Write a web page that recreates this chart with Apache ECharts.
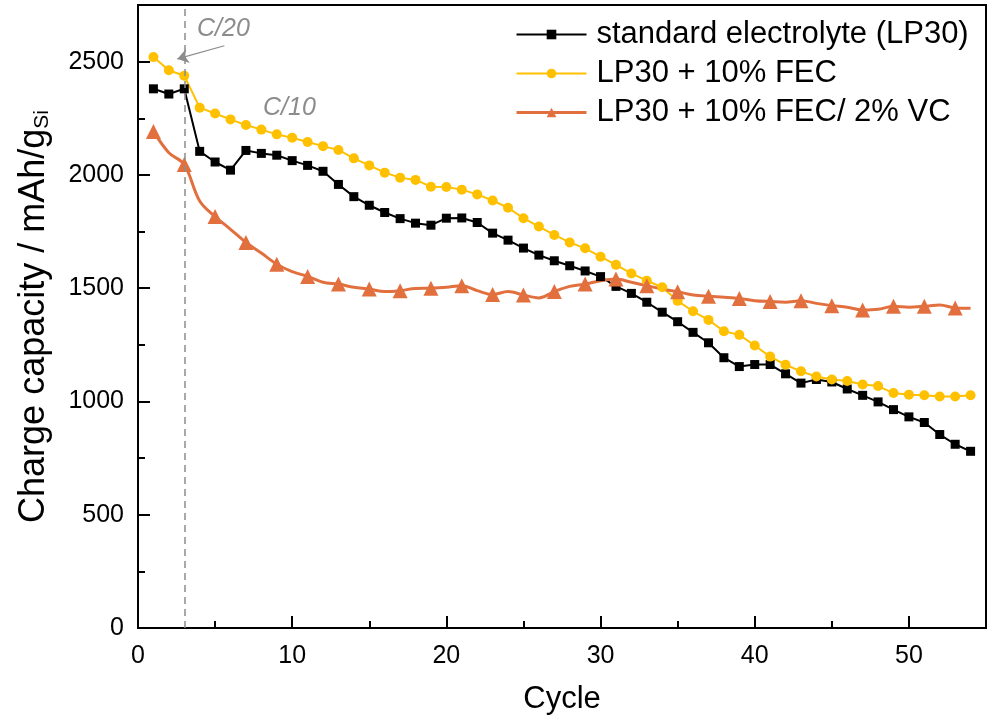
<!DOCTYPE html>
<html>
<head>
<meta charset="utf-8">
<script src="https://cdn.jsdelivr.net/npm/echarts@6/dist/echarts.min.js"></script>
<style>
  html, body { margin: 0; padding: 0; background: #fff; }
  #chart { width: 992px; height: 720px; }
</style>
</head>
<body>
<div id="chart"></div>
<script>
// cycle numbers 1..54
var cycles = [];
for (var i = 1; i <= 54; i++) cycles.push(i);

// standard electrolyte (LP30), mAh/g
var standardLP30 = [
  2380, 2357, 2380, 2104, 2057, 2021, 2108, 2095, 2087, 2063,
  2042, 2016, 1958, 1904, 1866, 1834, 1807, 1787, 1778, 1809,
  1810, 1790, 1743, 1712, 1677, 1646, 1621, 1599, 1576, 1551,
  1508, 1477, 1438, 1394, 1352, 1305, 1259, 1193, 1154, 1163,
  1163, 1122, 1081, 1097, 1086, 1055, 1027, 998, 964, 932,
  907, 854, 811, 780
];

// LP30 + 10% FEC
var withFEC = [
  2520, 2462, 2438, 2297, 2271, 2245, 2220, 2200, 2179, 2164,
  2145, 2127, 2110, 2073, 2042, 2010, 1988, 1978, 1948, 1947,
  1935, 1914, 1887, 1855, 1809, 1772, 1735, 1702, 1676, 1639,
  1603, 1565, 1533, 1504, 1444, 1398, 1360, 1310, 1294, 1247,
  1198, 1162, 1133, 1110, 1097, 1090, 1075, 1068, 1037, 1030,
  1027, 1022, 1022, 1027
];

// LP30 + 10% FEC/ 2% VC
var withFECVC = [
  2192, 2098, 2046, 1885, 1816, 1760, 1702, 1655, 1606, 1573,
  1552, 1526, 1518, 1504, 1496, 1485, 1489, 1499, 1500, 1504,
  1511, 1489, 1472, 1485, 1470, 1457, 1485, 1508, 1518, 1533,
  1540, 1526, 1511, 1496, 1484, 1470, 1464, 1460, 1455, 1445,
  1441, 1438, 1445, 1433, 1423, 1416, 1404, 1407, 1420, 1416,
  1420, 1426, 1413, 1411
];

var seriesNames = ['standard electrolyte (LP30)', 'LP30 + 10% FEC', 'LP30 + 10% FEC/ 2% VC'];
var rateSwitchCycle = 3;

function pairs(ys) {
  return cycles.map(function (c, i) { return [c, ys[i]]; });
}

var chart = echarts.init(document.getElementById('chart'));
var FONT = '"Liberation Sans", Arial, sans-serif';
var GRAY = '#8c8c8c';

var baseX = {
  type: 'value', min: 0, max: 55, gridIndex: 0, position: 'bottom',
  axisLine: { show: true, lineStyle: { color: '#000', width: 2 } },
  splitLine: { show: false }
};
var baseY = {
  type: 'value', min: 0, max: 2750, gridIndex: 0, position: 'left',
  axisLine: { show: true, lineStyle: { color: '#000', width: 2 } },
  splitLine: { show: false }
};

var option = {
  animation: false,
  backgroundColor: '#fff',
  textStyle: { fontFamily: FONT },
  grid: {
    left: 138, right: 6, top: 5, bottom: 90,
    show: true, borderColor: '#000', borderWidth: 2
  },
  legend: {
    orient: 'vertical', left: 515, top: 19, padding: 0,
    itemWidth: 70, itemHeight: 12, itemGap: 8,
    selectedMode: false,
    textStyle: { fontSize: 31, color: '#000', fontFamily: FONT, padding: [0, 0, 0, 5] },
    data: [
      { name: seriesNames[0] },
      { name: seriesNames[1] },
      { name: seriesNames[2], lineStyle: { width: 3 } }
    ]
  },
  xAxis: [
    Object.assign({}, baseX, {
      interval: 10,
      axisTick: { inside: true, length: 12, lineStyle: { color: '#000', width: 2 } },
      axisLabel: {
        fontSize: 25, color: '#000', margin: 16, fontFamily: FONT,
        formatter: function (v) { return v % 10 === 0 ? String(v) : ''; }
      },
      name: 'Cycle', nameLocation: 'middle', nameGap: 56,
      nameTextStyle: { fontSize: 31, color: '#000', fontFamily: FONT }
    }),
    Object.assign({}, baseX, {
      interval: 5,
      axisTick: { inside: true, length: 7, lineStyle: { color: '#000', width: 2 } },
      axisLabel: { show: false }
    })
  ],
  yAxis: [
    Object.assign({}, baseY, {
      interval: 500,
      axisTick: { inside: true, length: 12, lineStyle: { color: '#000', width: 2 } },
      axisLabel: {
        fontSize: 25, color: '#000', margin: 14, fontFamily: FONT,
        formatter: function (v) { return v % 500 === 0 ? String(v) : ''; }
      },
      name: 'Charge capacity / mAh/g{s|Si}', nameLocation: 'middle', nameGap: 85,
      nameTextStyle: {
        fontSize: 36, color: '#000', fontFamily: FONT,
        rich: { s: { fontSize: 21, color: '#000', fontFamily: FONT, padding: [16, 0, 0, 0] } }
      }
    }),
    Object.assign({}, baseY, {
      interval: 250,
      axisTick: { inside: true, length: 7, lineStyle: { color: '#000', width: 2 } },
      axisLabel: { show: false }
    })
  ],
  graphic: [
    { type: 'text', left: 197, top: 17, style: { text: 'C/20', fontSize: 25, fontStyle: 'italic', fill: GRAY, fontFamily: FONT } },
    { type: 'text', left: 263, top: 96, style: { text: 'C/10', fontSize: 25, fontStyle: 'italic', fill: GRAY, fontFamily: FONT } }
  ],
  series: [
    {
      name: seriesNames[0], type: 'line', xAxisIndex: 0, yAxisIndex: 0,
      data: pairs(standardLP30),
      symbol: 'rect', symbolSize: 9,
      lineStyle: { color: '#000', width: 2 },
      itemStyle: { color: '#000' },
      markLine: {
        silent: true, symbol: ['none', 'none'], animation: false,
        label: { show: false },
        lineStyle: { color: GRAY, type: [7, 5], width: 1.5 },
        data: [
          { xAxis: rateSwitchCycle },
          [
            { coord: [5.6, 2570], symbol: 'none' },
            { coord: [2.55, 2512], symbol: 'arrow', symbolSize: 11, lineStyle: { type: 'solid', width: 1.2, color: GRAY } }
          ]
        ]
      }
    },
    {
      name: seriesNames[1], type: 'line', xAxisIndex: 0, yAxisIndex: 0,
      data: pairs(withFEC),
      symbol: 'circle', symbolSize: 10,
      lineStyle: { color: '#FFC000', width: 2 },
      itemStyle: { color: '#FFC000' }
    },
    {
      name: seriesNames[2], type: 'line', xAxisIndex: 0, yAxisIndex: 0,
      smooth: 0.35,
      data: cycles.map(function (c, i) {
        return i % 2 === 0 ? { value: [c, withFECVC[i]] } : { value: [c, withFECVC[i]], symbol: 'none' };
      }),
      symbol: 'triangle', symbolSize: 15,
      lineStyle: { color: '#E2703F', width: 3 },
      itemStyle: { color: '#E2703F' }
    }
  ]
};

chart.setOption(option);
</script>
</body>
</html>
